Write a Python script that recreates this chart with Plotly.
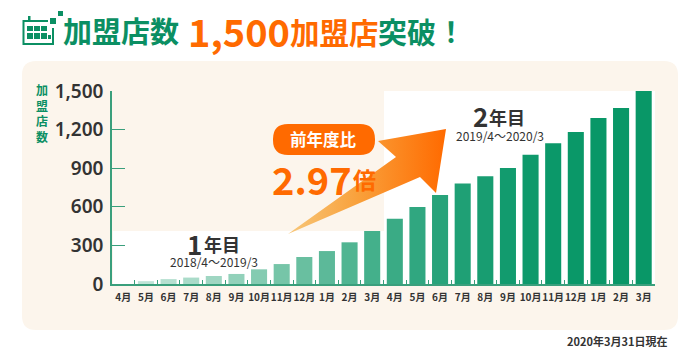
import plotly.graph_objects as go

months = ["4月","5月","6月","7月","8月","9月","10月","11月","12月","1月","2月","3月",
          "4月","5月","6月","7月","8月","9月","10月","11月","12月","1月","2月","3月"]
ids = [f"m{i}" for i in range(24)]
stores = [0,22,38,50,62,78,114,155,210,256,324,412,507,598,692,782,837,901,1005,1093,1181,1290,1368,1500]
bar_colors = ["#c4e6da","#bfe4d7","#b5e0d0","#aadbc9","#9fd6c2","#92d1ba","#84cbb1","#76c5a8","#69bfa0","#5cb999","#50b592","#44b08b",
              "#3aab85","#30a780","#27a37a","#1fa075","#189d71","#129b6e","#0e996b","#0b9869","#0a9868","#099767","#099767","#099767"]
y_ticks = [0,300,600,900,1200,1500]
y_tick_labels = ["0","300","600","900","1,200","1,500"]

W,H = 700,361
AX0,AX1,AY_TOP,AY_BOT = 112,655,91,284
GREEN="#0b8f63"; AXIS="#3a9f7c"; ORANGE="#ff6a00"; DARK="#333333"
FONT="Noto Sans CJK JP"

arrow_x = [288,396,378,446,436,420,288]
arrow_y = [234,157,141,129,193,177,234]

fig = go.Figure()
fig.add_trace(go.Bar(x=ids,y=stores,marker=dict(color=bar_colors,line=dict(width=0)),width=0.71,hoverinfo="skip",showlegend=False))
fig.add_trace(go.Scatter(x=arrow_x,y=arrow_y,xaxis="x2",yaxis="y2",mode="lines",line=dict(width=0),fill="toself",
    fillgradient=dict(type="horizontal",colorscale=[[0,"#f7c77a"],[0.45,"#f9a03a"],[1,"#ff6a00"]]),
    hoverinfo="skip",showlegend=False))

def fx(x): return round(x/W,5)
def fy(y): return round(1-y/H,5)
def rrect(x0,y0,x1,y1,r):
    P=lambda a,b:f"{fx(a)},{fy(b)}"
    return (f"M{P(x0+r,y0)} L{P(x1-r,y0)} Q{P(x1,y0)} {P(x1,y0+r)} L{P(x1,y1-r)} Q{P(x1,y1)} {P(x1-r,y1)} "
            f"L{P(x0+r,y1)} Q{P(x0,y1)} {P(x0,y1-r)} L{P(x0,y0+r)} Q{P(x0,y0)} {P(x0+r,y0)} Z")
def R(x0,y0,x1,y1,c,layer="below"):
    return dict(type="rect",xref="paper",yref="paper",x0=fx(x0),x1=fx(x1),y0=fy(y0),y1=fy(y1),fillcolor=c,line=dict(width=0),layer=layer)
def RR(x0,y0,x1,y1,r,c):
    return dict(type="path",xref="paper",yref="paper",path=rrect(x0,y0,x1,y1,r),fillcolor=c,line=dict(width=0),layer="below")

IC=GREEN
shapes=[
 RR(22,61,678,330,14,"#fcf5ec"),
 R(113,231,384,284,"#ffffff"),
 R(384,91,655,284,"#ffffff"),
 RR(273,124,375,155,15,ORANGE),
 # calendar icon
 dict(type="path",xref="paper",yref="paper",
      path=f"M{fx(48)},{fy(21)} L{fx(23.5)},{fy(21)} L{fx(23.5)},{fy(44)} L{fx(53)},{fy(44)} L{fx(53)},{fy(28)}",
      line=dict(color=IC,width=2),layer="below"),
 R(28,16,30.5,21,IC),
 R(27,26,33,31,IC),R(34,26,40,31,IC),R(41,26,47,31,IC),
 R(27,33,33,39,IC),R(34,33,40,39,IC),R(41,33,47,39,IC),
 R(48,35,51,39,IC),
 R(50,18,56,24,IC),R(58,11,63,16,IC),
]

def T(x,y,text,size,color=DARK,bold=True,anchor="left",**k):
    t=f"<b>{text}</b>" if bold else text
    return dict(xref="x2",yref="y2",x=x,y=y,text=t,showarrow=False,xanchor=anchor,yanchor="middle",
                font=dict(family=FONT,size=size,color=color),borderpad=0,**k)

anns=[
 T(62,30,"加盟店数",29,GREEN),
 T(187,30,"1,500",38,ORANGE),
 T(289,31,"加盟店",29.5,ORANGE),
 T(377,31,"突破",29,GREEN),
 T(436,31,"！",28,GREEN),
 T(42,112.5,"加<br>盟<br>店<br>数",12,GREEN,anchor="center"),
 T(186,243,"1",26),T(203,244,"年目",18),
 T(214,261,"2018/4～2019/3",12,bold=False,anchor="center"),
 T(472,115,"2",26),T(488,117,"年目",18),
 T(499.5,135,"2019/4～2020/3",12,bold=False,anchor="center"),
 T(323,139,"前年度比",16.5,"#ffffff",anchor="center"),
 T(271,178,"2.97",38,ORANGE),
 T(352,179,"倍",23,ORANGE),
 T(566,341,"2020年3月31日現在",11,DARK),
]

fig.update_layout(
 width=W,height=H,margin=dict(l=0,r=0,t=0,b=0),paper_bgcolor="#ffffff",plot_bgcolor="rgba(0,0,0,0)",
 bargap=0.29,showlegend=False,shapes=shapes,annotations=anns,
 font=dict(family=FONT,color=DARK),
 xaxis=dict(type="category",domain=[AX0/W,AX1/W],anchor="y",categoryorder="array",categoryarray=ids,automargin=False,
            tickmode="array",tickvals=ids,ticktext=months,tickson="boundaries",ticks="inside",ticklen=4,tickwidth=1,tickcolor=AXIS,
            showline=True,linecolor=AXIS,linewidth=1.5,showgrid=False,zeroline=False,fixedrange=True,ticklabelstandoff=3,
            tickfont=dict(family=FONT,size=10,color=DARK,weight="bold"),tickangle=0),
 yaxis=dict(domain=[1-AY_BOT/H,1-AY_TOP/H],range=[0,1500],anchor="x",tickmode="array",tickvals=y_ticks,ticktext=y_tick_labels,automargin=False,
            ticks="inside",ticklen=13,tickwidth=1,tickcolor=AXIS,showline=True,linecolor=AXIS,linewidth=1.5,showgrid=False,zeroline=False,fixedrange=True,
            ticklabelstandoff=3,
            tickfont=dict(family="Noto Sans",size=19,color=DARK,weight=600)),
 xaxis2=dict(domain=[0,1],range=[0,W],anchor="y2",visible=False,fixedrange=True,automargin=False),
 yaxis2=dict(domain=[0,1],range=[H,0],anchor="x2",visible=False,fixedrange=True,automargin=False),
)
fig.write_html("out.html",config=dict(displayModeBar=False),post_script="document.body.style.margin='0';")
